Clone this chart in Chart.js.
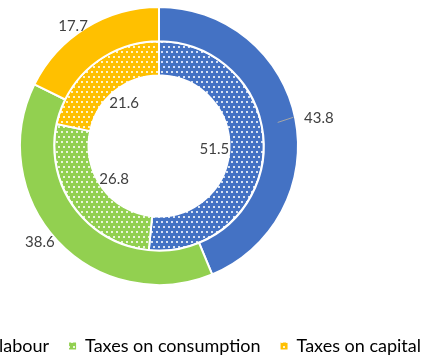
<!DOCTYPE html>
<html>
<head>
<meta charset="utf-8">
<script src="https://cdn.jsdelivr.net/npm/chart.js@4/dist/chart.umd.min.js"></script>
<style>
  html, body { margin: 0; padding: 0; background: #fff; overflow: hidden; }
  #wrap { position: relative; width: 425px; height: 356px; overflow: hidden; }
  #box { position: absolute; left: -140px; top: 0; }
</style>
</head>
<body>
<div id="wrap"><div id="box"><canvas id="chart" width="581" height="365"></canvas></div></div>
<script>
// tax mix, outer ring = first year, inner ring = second year
const categories = ["Taxes on labour", "Taxes on consumption", "Taxes on capital"];
const outerValues = [43.8, 38.6, 17.7];
const innerValues = [51.5, 26.8, 21.6];
const colors = ["#4472C4", "#92D050", "#FFC000"];
const leaderLines = [true, false, false];

const FONT = "Lato, 'Open Sans', sans-serif";

// dotted fill used by the inner ring and the legend boxes
function dotPattern(color) {
  const c = document.createElement("canvas");
  c.width = 10;
  c.height = 10;
  const g = c.getContext("2d");
  g.fillStyle = color;
  g.fillRect(0, 0, 10, 10);
  g.fillStyle = "rgba(255,255,255,0.8)";
  [[1, 1], [6, 1], [3, 6], [8, 6]].forEach(([x, y]) => g.fillRect(x, y, 2, 2));
  return g.createPattern(c, "repeat");
}
const innerFills = colors.map(dotPattern);

// keep the doughnut left of the legend centre
const placeArea = {
  id: "placeArea",
  afterLayout(chart) {
    const a = chart.chartArea;
    a.left = 159; a.right = 439;
    a.top = 6; a.bottom = 286;
    a.width = 280; a.height = 280;
  }
};

// value labels: outer ring outside (slightly flattened ellipse), inner ring in the hole
const ringLabels = {
  id: "ringLabels",
  afterDatasetsDraw(chart) {
    const ctx = chart.ctx;
    ctx.save();
    ctx.font = "15px " + FONT;
    ctx.fillStyle = "#404040";
    ctx.textAlign = "center";
    ctx.textBaseline = "middle";
    chart.data.datasets.forEach((ds, di) => {
      chart.getDatasetMeta(di).data.forEach((arc, i) => {
        const p = arc.getProps(["x", "y", "startAngle", "endAngle", "innerRadius", "outerRadius"], true);
        const mid = (p.startAngle + p.endAngle) / 2;
        const cos = Math.cos(mid), sin = Math.sin(mid);
        const rx = di === 0 ? p.outerRadius + 24 : p.innerRadius - 15;
        const ry = di === 0 ? p.outerRadius + 2 : p.innerRadius - 15;
        if (di === 0 && leaderLines[i]) {
          ctx.strokeStyle = "#A6A6A6";
          ctx.lineWidth = 1;
          ctx.beginPath();
          ctx.moveTo(p.x + cos * (p.outerRadius - 18), p.y + sin * (p.outerRadius - 18));
          ctx.lineTo(p.x + cos * (p.outerRadius - 2), p.y + sin * (p.outerRadius - 2) - 2);
          ctx.stroke();
        }
        ctx.fillText(ds.data[i].toFixed(1), p.x + cos * rx, p.y + sin * ry);
      });
    });
    ctx.restore();
  }
};

new Chart(document.getElementById("chart"), {
  type: "doughnut",
  data: {
    labels: categories,
    datasets: [
      {
        data: outerValues,
        backgroundColor: colors,
        borderColor: "#fff",
        borderWidth: 2
      },
      {
        data: innerValues,
        backgroundColor: innerFills,
        borderColor: "#fff",
        borderWidth: 2
      }
    ]
  },
  options: {
    responsive: false,
    animation: false,
    events: [],
    cutout: 70.5,
    hoverOffset: 0,
    plugins: {
      tooltip: { enabled: false },
      legend: {
        position: "bottom",
        align: "end",
        labels: {
          boxWidth: 7,
          boxHeight: 7,
          padding: 20,
          color: "#595959",
          font: { family: FONT, size: 18 },
          generateLabels: () =>
            categories.map((c, i) => ({
              text: c,
              fillStyle: innerFills[i],
              strokeStyle: innerFills[i],
              lineWidth: 0,
              hidden: false,
              index: i
            }))
        }
      }
    }
  },
  plugins: [placeArea, ringLabels]
});
</script>
</body>
</html>
